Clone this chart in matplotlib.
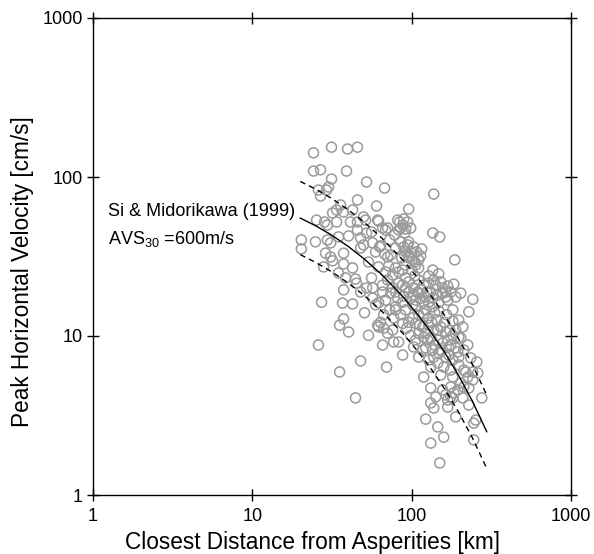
import numpy as np
import matplotlib
matplotlib.use("Agg")
import matplotlib.pyplot as plt

plt.rcParams['font.family'] = ['Liberation Sans', 'DejaVu Sans']
plt.rcParams['mathtext.fontset'] = 'custom'
plt.rcParams['mathtext.rm'] = 'Liberation Sans'
plt.rcParams['mathtext.it'] = 'Liberation Sans'
plt.rcParams['mathtext.default'] = 'regular'

# Observed records: closest distance from asperities [km], PGV [cm/s]
dist_obs = [
    24.2, 31.4, 39.6, 45.7, 24.2, 26.8, 39.0, 31.4, 52.1, 67.6,
    30.1, 29.2, 26.0, 26.8, 45.7, 60.2, 35.8, 33.8, 31.9, 37.4,
    42.6, 25.3, 28.4, 29.6, 33.8, 49.9, 51.4, 45.7, 61.1, 65.7,
    70.6, 40.2, 45.7, 52.1, 20.3, 20.3, 24.9, 29.6, 31.0, 34.7,
    47.8, 49.9, 56.9, 62.9, 67.6, 70.6, 28.8, 31.0, 37.4, 31.9,
    28.0, 37.4, 34.7, 38.5, 44.4, 45.1, 56.0, 37.4, 52.1,
    27.2, 36.8, 42.6, 50.6, 37.4, 35.3, 40.2, 26.0, 53.6, 47.8,
    35.3, 44.4, 65.7, 69.6, 62.0, 66.7, 62.0, 68.6, 63.8, 70.6,
    77.1, 82.9, 76.0, 79.3, 77.1, 87.8, 87.8,
    137.6, 95.8, 62.0, 68.6, 84.1, 87.8, 85.3, 91.7, 135.6, 150.0,
    186.4, 63.8, 73.8, 79.3, 89.1, 95.8, 91.7, 98.6, 110.6, 110.6,
    135.6, 147.9, 183.7, 127.9, 141.6, 156.7, 163.6, 62.0, 68.6, 76.0,
    82.9, 91.7, 95.8, 87.8, 102.9, 65.7, 76.0, 79.3, 241.9, 101.5,
    106.0, 95.8, 90.4,
    228.3, 181.1, 163.6, 168.4, 156.7, 203.3, 225.0, 194.7, 260.0,
    218.6, 241.9, 228.3, 275.6, 252.6, 245.4, 245.4, 119.0, 131.7, 141.6,
    163.6, 175.9, 183.7, 131.7, 137.6, 168.4, 168.4, 189.1, 122.5, 145.8,
    159.0, 131.7, 150.0,
    73.8, 95.8, 110.6, 131.7, 145.8, 106.0, 87.8, 79.3, 91.7, 101.5,
    117.2, 122.5, 135.6, 147.9, 59.4, 66.7, 61.1, 95.8, 106.0, 117.2,
    127.9, 137.6, 152.2, 163.6, 181.1, 197.5, 110.6, 119.0, 131.7, 145.8,
    156.7, 170.9, 189.1, 122.5, 135.6, 147.9, 163.6, 181.1, 197.5, 102.9,
    110.6, 127.9, 145.8, 158.9, 175.9, 212.4, 225.0, 241.9, 156.7, 175.9,
    212.4, 194.7, 181.1,
    81.7, 89.1, 94.4, 82.9, 90.4, 98.6,
    85.3, 94.4, 102.9, 107.5, 86.5, 95.8, 104.5, 113.9, 90.4, 100.0, 115.6,
    71.7, 79.3, 87.8, 104.5, 110.6, 119.0, 127.9, 137.6, 152.2, 168.4,
    175.9, 70.6, 82.9, 109.1, 122.5, 135.6, 189.1, 203.3,
    98.6, 113.9, 127.9, 139.6, 110.6, 127.9, 143.7, 166.0, 181.1, 197.5,
    98.6, 126.1, 152.2, 175.9, 137.6, 170.9, 197.5, 152.2, 181.1, 203.3,
    131.7, 117.2, 106.0, 212.4, 235.0, 256.3, 209.3, 228.3,
    91.7, 102.9, 113.9, 124.3, 89.1, 106.0, 119.0, 133.6, 147.9, 161.2,
    173.4, 145.8, 122.5, 112.3, 101.5, 93.0, 85.3, 168.4, 139.6, 189.1,
    209.3, 72.7, 81.7, 65.7, 56.9, 41.3, 47.8, 56.0, 59.4, 53.6,
    42.6, 47.8, 56.9, 78.2, 72.7,
]
pgv_obs = [
    142, 154, 150, 154, 109, 111, 109, 97.1, 93.0, 85.2,
    86.5, 82.8, 82.8, 75.9, 71.7, 65.7, 66.7, 62.0, 59.4, 60.2,
    62.0, 53.6, 52.1, 49.9, 52.1, 56.1, 53.6, 52.1, 53.6, 47.8,
    47.8, 42.6, 46.4, 44.4, 40.2, 35.3, 39.1, 40.2, 38.5, 42.0,
    35.8, 37.4, 38.5, 36.3, 32.8, 31.4, 33.2, 31.4, 33.2, 29.7,
    27.2, 28.4, 24.9, 23.2, 22.8, 21.5, 23.2, 19.5, 20.1,
    16.3, 16.1, 15.9, 14.0, 12.8, 11.7, 10.6, 8.78, 10.1, 6.97,
    5.94, 4.08, 8.78, 6.38, 11.4, 11.2, 16.2, 16.8, 12.2, 10.4,
    9.17, 9.17, 10.9, 14.6, 13.0, 12.0, 7.59,
    78.1, 62.9, 52.8, 46.4, 52.1, 49.9, 47.8, 47.1, 44.5, 42.0,
    30.1, 36.9, 32.3, 35.8, 36.3, 39.1, 33.8, 33.8, 30.1, 26.8,
    26.0, 24.6, 21.2, 21.5, 20.9, 20.1, 18.9, 27.2, 25.3, 24.2,
    25.3, 23.2, 21.9, 20.9, 20.1, 20.9, 20.1, 18.9, 17.0, 30.5,
    28.0, 31.0, 32.3,
    14.2, 12.4, 17.6, 16.8, 18.6, 9.72, 8.78, 7.94, 5.85,
    5.94, 5.29, 4.71, 4.08, 2.96, 2.83, 2.22, 5.52, 4.71, 4.14,
    4.26, 4.14, 4.39, 3.79, 3.52, 3.57, 3.96, 3.10, 3.00, 2.68,
    2.31, 2.12, 1.59,
    18.6, 18.9, 18.6, 18.9, 18.1, 16.8, 16.3, 15.3, 14.6, 15.7,
    16.2, 14.6, 15.3, 16.2, 15.7, 13.6, 11.7, 12.2, 12.0, 11.4,
    11.7, 10.9, 11.4, 10.6, 10.1, 9.81, 10.4, 9.81, 9.72, 9.44,
    9.04, 8.53, 8.41, 8.41, 8.17, 7.81, 7.37, 7.07, 7.37, 8.53,
    7.37, 7.07, 6.76, 6.38, 6.11, 6.11, 5.52, 5.94, 4.58, 4.78,
    4.78, 4.58, 4.08,
    53.6, 54.4, 52.1, 46.4, 44.4, 47.8,
    39.1, 37.4, 36.3, 33.8, 31.0, 31.8, 29.2, 31.8, 28.0, 26.0, 35.3,
    27.6, 26.8, 26.0, 23.9, 22.5, 20.9, 23.9, 22.5, 21.9, 20.6,
    18.9, 22.5, 21.5, 18.9, 17.6, 17.3, 17.6, 18.6,
    17.3, 17.3, 16.3, 14.0, 13.6, 13.0, 12.6, 13.6, 14.6, 12.6,
    10.1, 9.44, 8.17, 8.78, 7.37, 7.59, 6.57, 5.68, 5.52, 5.06,
    6.38, 8.17, 9.44, 8.17, 7.28, 6.87, 4.08, 3.68,
    20.1, 18.1, 19.5, 18.9, 17.8, 15.3, 13.8, 12.2, 14.4, 12.2,
    10.9, 10.9, 10.4, 11.7, 13.0, 11.2, 13.6, 9.44, 8.78, 10.9,
    11.4, 14.6, 17.3, 18.9, 17.3, 52.1, 41.4, 45.1, 33.8, 29.2,
    26.8, 18.9, 20.1, 43.2, 40.2,
]

# Si & Midorikawa (1999) curves: median, +1 sigma, -1 sigma
dist_curve = [20, 25, 31, 40, 50, 65, 88, 110, 132, 160, 195, 240, 296]
pgv_med = [55.2, 49.3, 43.5, 36.6, 30.7, 24.3, 17.7, 13.5, 10.6, 7.98, 5.75, 3.91, 2.50]
pgv_up = [93.8, 83.8, 74.0, 62.2, 52.2, 41.3, 30.1, 23.0, 18.0, 13.6, 9.78, 6.65, 4.25]
pgv_lo = [32.5, 29.0, 25.6, 21.5, 18.1, 14.3, 10.4, 7.94, 6.24, 4.69, 3.38, 2.30, 1.47]

xticks = [1, 10, 100, 1000]
xticklabels = ['1', '10', '100', '1000']
yticks = [1, 10, 100, 1000]
yticklabels = ['1', '10', '100', '1000']

fig = plt.figure(figsize=(5.94, 5.54), dpi=100)
ax = fig.add_axes([93 / 594, 59 / 554, 478 / 594, 477 / 554])

ax.scatter(dist_obs, pgv_obs, s=7.2 ** 2, facecolors='none',
           edgecolors='#9a9a9a', linewidths=1.1, zorder=2)
ax.plot(dist_curve, pgv_med, color='black', lw=1.0, zorder=3)
ax.plot(dist_curve, pgv_up, color='black', lw=1.0, ls=(0, (4, 3)), zorder=3)
ax.plot(dist_curve, pgv_lo, color='black', lw=1.0, ls=(0, (4, 3)), zorder=3)

ax.set_xscale('log')
ax.set_yscale('log')
ax.set_xlim(1, 1000)
ax.set_ylim(1, 1000)
ax.set_xticks(xticks)
ax.set_xticklabels(xticklabels)
ax.set_yticks(yticks)
ax.set_yticklabels(yticklabels)
ax.minorticks_off()
ax.tick_params(which='major', direction='inout', length=9, width=1.0,
               top=True, right=True, labelsize=13, pad=3, colors='black')
ax.tick_params(axis='x', pad=5)
for sp in ax.spines.values():
    sp.set_linewidth(1.0)

ax.set_xlabel('Closest Distance from Asperities [km]', fontsize=16.3, labelpad=5)
ax.xaxis.set_label_coords(0.46, -0.075)
ax.set_ylabel('Peak Horizontal Velocity [cm/s]', fontsize=16.3, labelpad=6)
ax.yaxis.set_label_coords(-0.124, 0.4675)

ax.text(1.245, 60.5, 'Si & Midorikawa (1999)', fontsize=13, ha='left', va='center')
ax.text(1.245, 41.0, 'AVS$_{30}$ =600m/s', fontsize=13, ha='left', va='center')

fig.savefig('out.png', dpi=100)
